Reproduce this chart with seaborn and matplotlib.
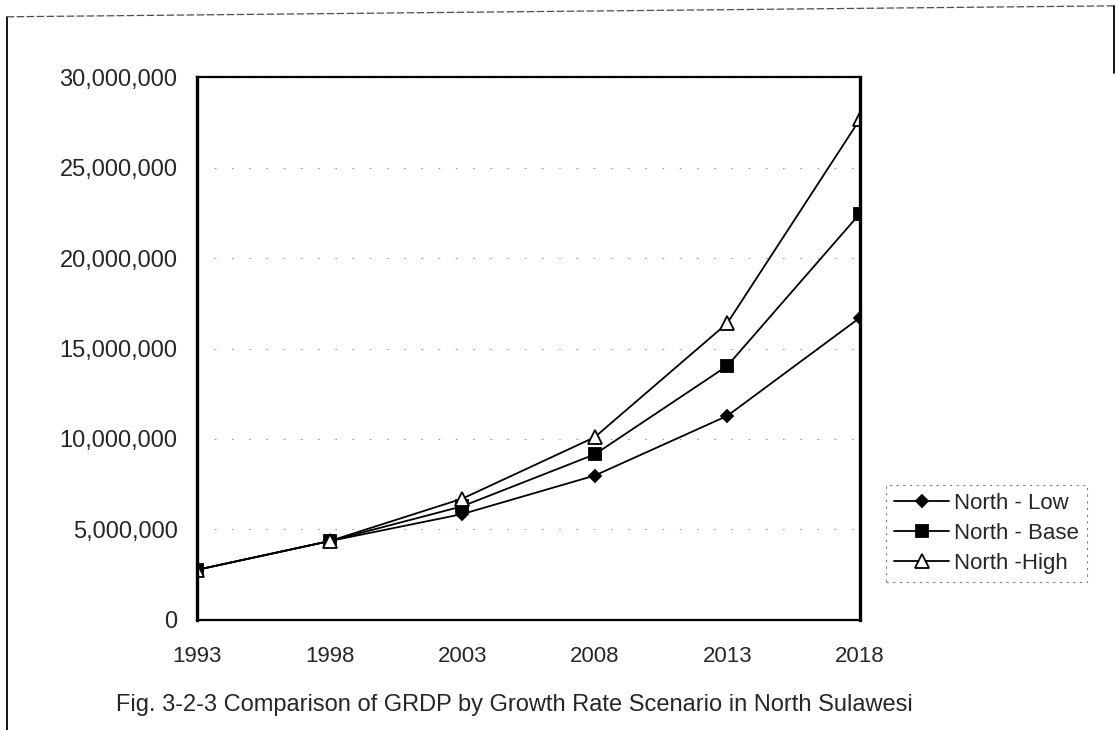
import numpy as np
import pandas as pd
import seaborn as sns
import matplotlib.pyplot as plt
from matplotlib.ticker import FuncFormatter
from matplotlib.lines import Line2D

# data
years = [1993, 1998, 2003, 2008, 2013, 2018]
north_low = [2770000, 4360000, 5850000, 7980000, 11280000, 16700000]
north_base = [2770000, 4360000, 6280000, 9150000, 14040000, 22450000]
north_high = [2770000, 4360000, 6700000, 10100000, 16400000, 27660000]

series_names = ["North - Low", "North - Base", "North -High"]

df = pd.DataFrame({
    "year": years * 3,
    "grdp": north_low + north_base + north_high,
    "scenario": np.repeat(series_names, len(years)),
})

sns.set_style("white")
plt.rcParams["font.family"] = ["Liberation Sans", "DejaVu Sans"]

fig = plt.figure(figsize=(11.16, 7.3), dpi=100)
ax = fig.add_axes([0.1765, 0.1507, 0.594, 0.7438])

styles = {
    "North - Low": dict(marker="D", markersize=6.5, markerfacecolor="black"),
    "North - Base": dict(marker="s", markersize=8.5, markerfacecolor="black"),
    "North -High": dict(marker="^", markersize=10, markerfacecolor="white"),
}

for name in series_names:
    sub = df[df["scenario"] == name]
    sns.lineplot(data=sub, x="year", y="grdp", ax=ax, color="black",
                 linewidth=1.3, markeredgecolor="black", markeredgewidth=1.3,
                 legend=False, **styles[name])

ax.set_xlim(1993, 2018)
ax.set_ylim(0, 30000000)
ax.set_xticks(years)
ax.set_yticks(np.arange(0, 30000001, 5000000))
ax.yaxis.set_major_formatter(FuncFormatter(lambda v, p: f"{int(v):,}"))
ax.tick_params(axis="y", labelsize=17, length=0, pad=14)
ax.tick_params(axis="x", labelsize=16, length=0, pad=19)
ax.set_xlabel("")
ax.set_ylabel("")

for side in ["bottom", "top"]:
    ax.spines[side].set_color("black")
    ax.spines[side].set_linewidth(1.6)
for side in ["left", "right"]:
    ax.spines[side].set_color("black")
    ax.spines[side].set_linewidth(2.4)

# faint dotted gridlines like the scan
ax.yaxis.grid(True, linestyle=(0, (1.5, 14)), color="0.6", linewidth=0.8)

handles = [Line2D([0], [0], color="black", linewidth=1.3,
                  markeredgecolor="black", markeredgewidth=1.3, **styles[n])
           for n in series_names]
leg = fig.legend(handles, series_names, loc="upper left",
                 bbox_to_anchor=(0.794, 0.335), fontsize=16, frameon=True,
                 fancybox=False, handlelength=2.5, handletextpad=0.2,
                 labelspacing=0.4, borderpad=0.35, borderaxespad=0)
leg.get_frame().set_edgecolor("0.35")
leg.get_frame().set_linestyle((0, (2, 4)))
leg.get_frame().set_linewidth(0.8)

fig.text(0.104, 0.034, "Fig. 3-2-3 Comparison of GRDP by Growth Rate Scenario in North Sulawesi",
         fontsize=17, ha="left", va="center")

# outer page frame of the scan
fig.add_artist(Line2D([0.006, 0.006], [0.0, 0.977], color="black", linewidth=1.3))
fig.add_artist(Line2D([0.006, 0.999], [0.977, 0.992], color="0.3", linewidth=0.9,
                      linestyle=(0, (6, 2))))
fig.add_artist(Line2D([0.998, 0.998], [0.992, 0.90], color="black", linewidth=1.3))

fig.savefig("out.png", dpi=100)
